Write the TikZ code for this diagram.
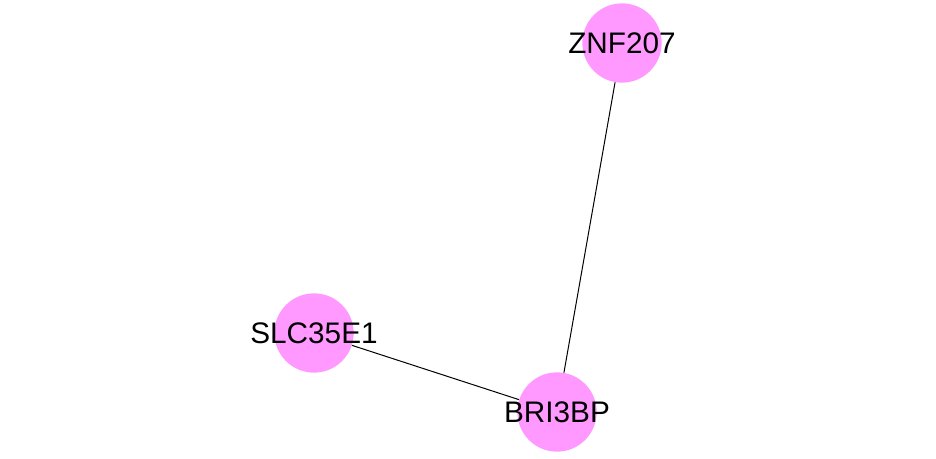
\documentclass[tikz,border=0pt]{standalone}
\usepackage{fontspec}
\setmainfont{Liberation Sans}
\usepackage{tikz}
\usetikzlibrary{positioning}
\definecolor{mypink}{RGB}{255,153,255}
\definecolor{mydark}{RGB}{0,0,0}
\tikzset{
  gene/.style={circle, fill=mypink, draw=none, minimum size=59.5pt,
    inner sep=0pt},
  genetext/.style={font=\fontsize{22.3}{25}\selectfont, text=mydark},
  line/.style={color=mydark, line width=0.75pt}
}
\begin{document}
\begin{tikzpicture}[x=0.75pt, y=-0.75pt]
  \useasboundingbox (0,0) rectangle (936,458);

  % Genes
  \node[gene, label={[genetext]center:ZNF207}] (znf) at (622,43) {};
  \node[gene, label={[genetext]center:SLC35E1}] (slc) at (314,333) {};
  \node[gene, label={[genetext]center:BRI3BP}] (bri) at (557,412) {};

  % Interactions
  \draw[line] (znf) -- (bri);
  \draw[line] (slc) -- (bri);
\end{tikzpicture}
\end{document}
